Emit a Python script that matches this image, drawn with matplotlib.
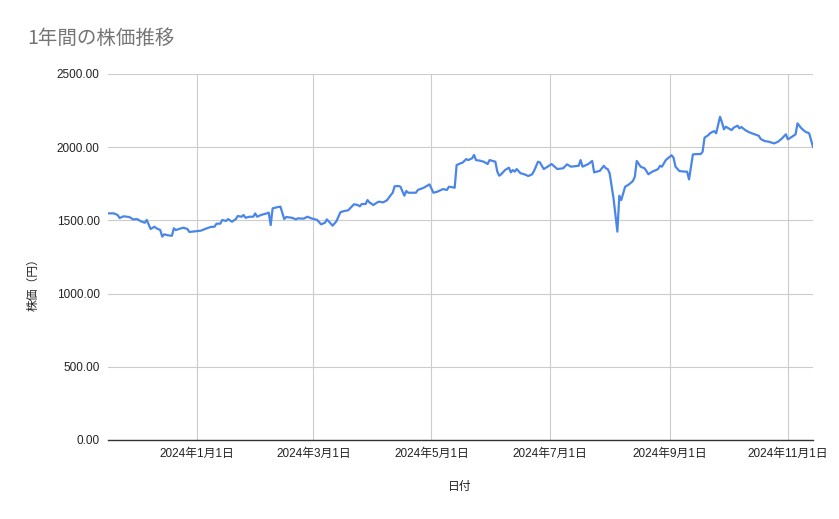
import matplotlib
matplotlib.use("Agg")
import matplotlib.pyplot as plt
import matplotlib.dates as mdates
import numpy as np

plt.rcParams['font.family'] = ['Liberation Sans', 'Noto Sans CJK JP', 'DejaVu Sans']

title = "1年間の株価推移"
x_label = "日付"
y_label = "株価（円）"

dates = [
    "2023-11-16", "2023-11-19", "2023-11-21", "2023-11-22", "2023-11-24", "2023-11-27",
    "2023-11-29", "2023-12-01", "2023-12-03", "2023-12-05", "2023-12-06", "2023-12-08",
    "2023-12-10", "2023-12-11", "2023-12-13", "2023-12-14", "2023-12-15", "2023-12-17",
    "2023-12-19", "2023-12-20", "2023-12-21", "2023-12-23", "2023-12-25", "2023-12-27",
    "2023-12-28", "2024-01-01", "2024-01-03", "2024-01-06", "2024-01-08", "2024-01-10",
    "2024-01-11", "2024-01-13", "2024-01-14", "2024-01-16", "2024-01-17", "2024-01-19",
    "2024-01-21", "2024-01-22", "2024-01-24", "2024-01-25", "2024-01-26", "2024-01-28",
    "2024-01-30", "2024-01-31", "2024-02-01", "2024-02-03", "2024-02-06", "2024-02-07",
    "2024-02-08", "2024-02-09", "2024-02-11", "2024-02-13", "2024-02-15", "2024-02-16",
    "2024-02-19", "2024-02-21", "2024-02-22", "2024-02-25", "2024-02-27", "2024-02-29",
    "2024-03-03", "2024-03-05", "2024-03-07", "2024-03-08", "2024-03-11", "2024-03-13",
    "2024-03-15", "2024-03-17", "2024-03-19", "2024-03-22", "2024-03-24", "2024-03-25",
    "2024-03-26", "2024-03-28", "2024-03-29", "2024-03-30", "2024-04-01", "2024-04-03",
    "2024-04-04", "2024-04-06", "2024-04-08", "2024-04-10", "2024-04-11", "2024-04-12",
    "2024-04-14", "2024-04-15", "2024-04-17", "2024-04-18", "2024-04-19", "2024-04-23",
    "2024-04-24", "2024-04-27", "2024-04-30", "2024-05-02", "2024-05-04", "2024-05-06",
    "2024-05-07", "2024-05-09", "2024-05-10", "2024-05-12", "2024-05-13", "2024-05-14",
    "2024-05-16", "2024-05-17", "2024-05-19", "2024-05-20", "2024-05-22", "2024-05-23",
    "2024-05-24", "2024-05-26", "2024-05-28", "2024-05-30", "2024-05-31", "2024-06-03",
    "2024-06-04", "2024-06-05", "2024-06-06", "2024-06-08", "2024-06-10", "2024-06-11",
    "2024-06-12", "2024-06-13", "2024-06-14", "2024-06-16", "2024-06-18", "2024-06-20",
    "2024-06-22", "2024-06-23", "2024-06-25", "2024-06-26", "2024-06-28", "2024-06-30",
    "2024-07-02", "2024-07-05", "2024-07-08", "2024-07-10", "2024-07-12", "2024-07-15",
    "2024-07-16", "2024-07-17", "2024-07-18", "2024-07-21", "2024-07-23", "2024-07-24",
    "2024-07-27", "2024-07-29", "2024-07-30", "2024-07-31", "2024-08-01", "2024-08-03",
    "2024-08-05", "2024-08-06", "2024-08-07", "2024-08-09", "2024-08-11", "2024-08-13",
    "2024-08-14", "2024-08-15", "2024-08-17", "2024-08-19", "2024-08-20", "2024-08-21",
    "2024-08-23", "2024-08-25", "2024-08-26", "2024-08-27", "2024-08-28", "2024-08-30",
    "2024-09-02", "2024-09-03", "2024-09-04", "2024-09-06", "2024-09-09", "2024-09-10",
    "2024-09-11", "2024-09-13", "2024-09-15", "2024-09-17", "2024-09-18", "2024-09-19",
    "2024-09-21", "2024-09-22", "2024-09-24", "2024-09-25", "2024-09-27", "2024-09-28",
    "2024-09-29", "2024-09-30", "2024-10-02", "2024-10-03", "2024-10-04", "2024-10-06",
    "2024-10-07", "2024-10-08", "2024-10-10", "2024-10-12", "2024-10-15", "2024-10-17",
    "2024-10-18", "2024-10-20", "2024-10-22", "2024-10-25", "2024-10-27", "2024-10-29",
    "2024-10-31", "2024-11-01", "2024-11-03", "2024-11-05", "2024-11-06", "2024-11-08",
    "2024-11-10", "2024-11-12", "2024-11-14",
]

prices = [
    1548, 1548, 1537, 1516, 1528, 1523,
    1507, 1509, 1494, 1484, 1503, 1441,
    1457, 1446, 1434, 1389, 1405, 1398,
    1395, 1446, 1434, 1443, 1450, 1441,
    1421, 1427, 1430, 1446, 1455, 1457,
    1477, 1478, 1503, 1496, 1509, 1491,
    1509, 1530, 1525, 1537, 1518, 1525,
    1525, 1548, 1525, 1537, 1548, 1553,
    1468, 1582, 1589, 1594, 1509, 1523,
    1518, 1507, 1514, 1512, 1525, 1514,
    1503, 1473, 1484, 1507, 1464, 1496,
    1556, 1564, 1569, 1610, 1605, 1596,
    1612, 1612, 1639, 1623, 1605, 1623,
    1628, 1623, 1637, 1673, 1689, 1733,
    1735, 1730, 1669, 1701, 1689, 1689,
    1708, 1723, 1746, 1689, 1696, 1708,
    1714, 1708, 1730, 1726, 1723, 1878,
    1890, 1894, 1919, 1912, 1924, 1947,
    1912, 1908, 1901, 1885, 1912, 1901,
    1833, 1805, 1815, 1844, 1860, 1828,
    1844, 1833, 1851, 1822, 1815, 1803,
    1815, 1839, 1901, 1896, 1851, 1867,
    1885, 1851, 1856, 1883, 1867, 1871,
    1873, 1912, 1867, 1885, 1906, 1828,
    1839, 1873, 1856, 1851, 1822, 1651,
    1423, 1669, 1639, 1730, 1746, 1769,
    1798, 1906, 1867, 1856, 1837, 1815,
    1833, 1844, 1851, 1873, 1867, 1912,
    1945, 1928, 1867, 1837, 1833, 1833,
    1780, 1951, 1953, 1953, 1969, 2065,
    2083, 2097, 2110, 2095, 2208, 2170,
    2122, 2140, 2124, 2117, 2133, 2147,
    2129, 2138, 2117, 2102, 2088, 2078,
    2056, 2042, 2038, 2026, 2038, 2060,
    2088, 2054, 2070, 2088, 2163, 2129,
    2106, 2095, 2003,
]

y_ticks = [0, 500, 1000, 1500, 2000, 2500]
x_tick_dates = ["2024-01-01", "2024-03-01", "2024-05-01", "2024-07-01", "2024-09-01", "2024-11-01"]
x_tick_labels = ["2024年1月1日", "2024年3月1日", "2024年5月1日", "2024年7月1日", "2024年9月1日", "2024年11月1日"]

d = np.array(dates, dtype="datetime64[D]").astype("datetime64[ms]").astype(object)
xt = np.array(x_tick_dates, dtype="datetime64[D]").astype("datetime64[ms]").astype(object)

fig = plt.figure(figsize=(8.39, 5.19), dpi=100)
ax = fig.add_axes([108/839, 1 - 440/519, (813-108)/839, (440-74)/519])

ax.plot(d, prices, color="#4a86e8", linewidth=1.6, solid_joinstyle="round", zorder=3)

ax.set_xlim(d[0], d[-1])
ax.set_ylim(0, 2500)
ax.set_yticks(y_ticks)
ax.set_yticklabels([f"{v:.2f}" for v in y_ticks])
ax.set_xticks(xt)
ax.set_xticklabels(x_tick_labels)

ax.grid(True, color="#cccccc", linewidth=0.8, zorder=0)
ax.set_axisbelow(True)
for s in ["top", "right", "left"]:
    ax.spines[s].set_visible(False)
ax.spines["bottom"].set_color("#333333")
ax.spines["bottom"].set_linewidth(1.0)
ax.spines["bottom"].set_zorder(4)
ax.tick_params(axis="both", length=0, labelsize=8.5, colors="#222222")
ax.tick_params(axis="y", pad=6)
ax.tick_params(axis="x", pad=6)

fig.text(27/839, 1 - 38/519, title, fontsize=14, color="#757575", va="center", ha="left",
         family=['Noto Sans CJK JP', 'DejaVu Sans'])
fig.text(460/839, 1 - 487/519, x_label, fontsize=8.5, color="#222222", ha="center", va="center")
fig.text(33/839, 1 - 282/519, y_label, fontsize=8.5, color="#222222", ha="center", va="center",
         rotation=90)

fig.savefig("out.png", dpi=100)
